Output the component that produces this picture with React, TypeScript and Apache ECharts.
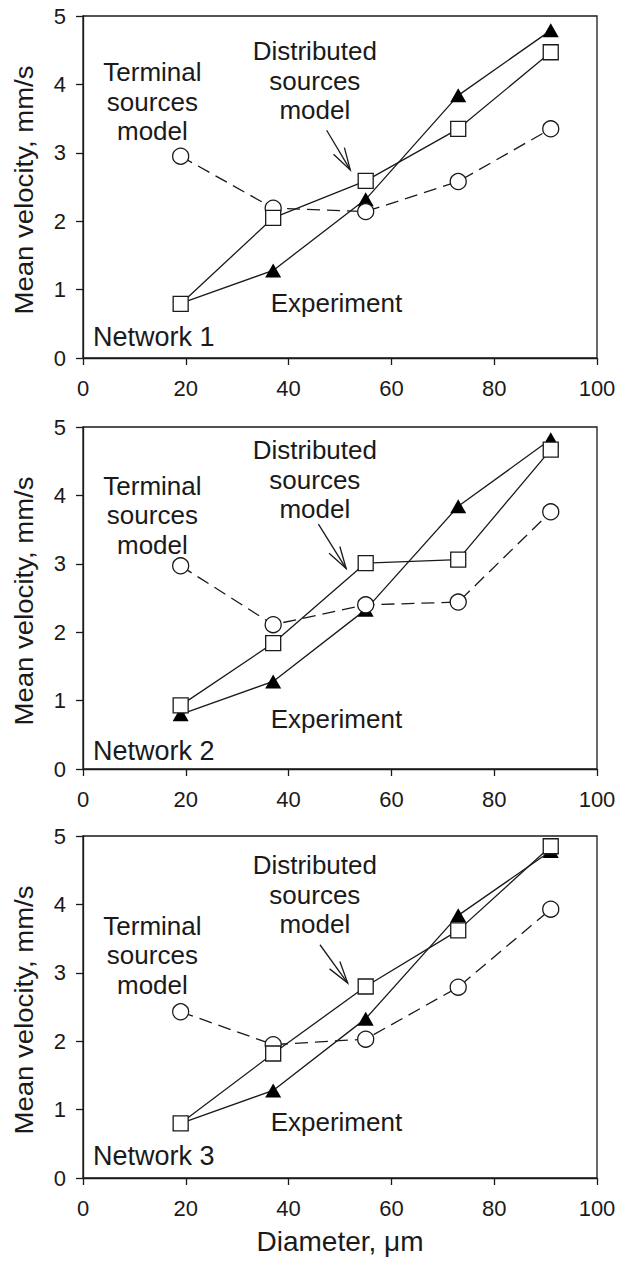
import React, { useEffect, useRef } from "react";
import * as echarts from "echarts";

// ---- data ----
const diameters = [19, 37, 55, 73, 91];
const experiment = [
  [0.8, 1.28, 2.32, 3.84, 4.79],
  [0.8, 1.28, 2.33, 3.84, 4.82],
  [0.8, 1.28, 2.33, 3.84, 4.78],
];
const distributedModel = [
  [0.79, 2.05, 2.59, 3.35, 4.47],
  [0.93, 1.84, 3.01, 3.06, 4.67],
  [0.8, 1.82, 2.8, 3.62, 4.85],
];
const terminalModel = [
  [2.95, 2.19, 2.14, 2.58, 3.35],
  [2.97, 2.11, 2.4, 2.44, 3.76],
  [2.43, 1.95, 2.03, 2.79, 3.93],
];
const networkNames = ["Network 1", "Network 2", "Network 3"];
const xMin = 0, xMax = 100, xStep = 20;
const yMin = 0, yMax = 5, yStep = 1;
const yTitle = "Mean velocity, mm/s";
const xTitle = "Diameter, \u03bcm";
const terminalText = "Terminal\nsources\nmodel";
const distributedText = "Distributed\nsources\nmodel";
const experimentText = "Experiment";

// annotation anchors in data coordinates (per panel)
const terminalAnchor = [[13.5, 3.75], [13.5, 3.71], [13.5, 3.26]];
const distributedAnchor = [[45.1, 4.05], [45.1, 4.23], [45.1, 4.14]];
const experimentAnchor = [[49.3, 0.8], [49.3, 0.73], [49.3, 0.82]];
const networkAnchor = [[1.95, 0.31], [1.95, 0.27], [1.95, 0.32]];
const arrowTail = [[47.4, 3.33], [45.8, 3.58], [46.1, 3.41]];
const arrowTip = [[52.0, 2.75], [51.2, 2.93], [51.5, 2.85]];

const FONT = "'Liberation Sans', Arial, Helvetica, sans-serif";
const INK = "#1a1a1a";
const gridTops = [16, 427, 836];
const gridH = 342;
const gridLeft = 83;
const gridW = 514;

export default function App() {
  const ref = useRef<HTMLDivElement>(null);
  useEffect(() => {
    document.body.style.margin = "0";
    const chart = echarts.init(ref.current!, undefined, { renderer: "svg" });
    const grids = gridTops.map((t) => ({
      left: gridLeft, top: t, width: gridW, height: gridH,
      show: true, borderColor: INK, borderWidth: 1.3, backgroundColor: "transparent",
    }));
    const xAxes = gridTops.map((_, i) => ({
      type: "value", gridIndex: i, min: xMin, max: xMax, interval: xStep,
      axisLine: { show: true, onZero: false, lineStyle: { color: INK, width: 1.3 } },
      axisTick: { show: true, inside: false, length: 7, lineStyle: { color: INK, width: 1.3 } },
      splitLine: { show: false },
      axisLabel: { fontSize: 22, color: INK, fontFamily: FONT, margin: 19 },
      name: i === 2 ? xTitle : "",
      nameLocation: "middle",
      nameGap: 49,
      nameTextStyle: { fontSize: 28, color: INK, fontFamily: FONT },
    }));
    const yAxes = gridTops.map((_, i) => ({
      type: "value", gridIndex: i, min: yMin, max: yMax, interval: yStep,
      axisLine: { show: true, onZero: false, lineStyle: { color: INK, width: 1.3 } },
      axisTick: { show: true, inside: false, length: 7, lineStyle: { color: INK, width: 1.3 } },
      splitLine: { show: false },
      axisLabel: { fontSize: 22, color: INK, fontFamily: FONT, margin: 17 },
    }));
    const series: any[] = [];
    gridTops.forEach((_, i) => {
      series.push({
        type: "line", name: "Experiment", xAxisIndex: i, yAxisIndex: i,
        data: diameters.map((d, k) => [d, experiment[i][k]]),
        symbol: "triangle", symbolSize: [16, 14],
        itemStyle: { color: "#000", borderColor: "#000", borderWidth: 0 },
        lineStyle: { color: INK, width: 1.3, type: "solid" },
        z: 2,
      });
      series.push({
        type: "line", name: "Terminal", xAxisIndex: i, yAxisIndex: i,
        data: diameters.map((d, k) => [d, terminalModel[i][k]]),
        symbol: "circle", symbolSize: 16, showAllSymbol: true,
        itemStyle: { color: "#fff", borderColor: INK, borderWidth: 1.3 },
        lineStyle: { color: INK, width: 1.3, type: [13, 7] },
        z: 3,
      });
      series.push({
        type: "line", name: "Distributed", xAxisIndex: i, yAxisIndex: i,
        data: diameters.map((d, k) => [d, distributedModel[i][k]]),
        symbol: "rect", symbolSize: 15,
        itemStyle: { color: "#fff", borderColor: INK, borderWidth: 1.3 },
        lineStyle: { color: INK, width: 1.3, type: "solid" },
        z: 4,
      });
    });
    chart.setOption({
      animation: false,
      backgroundColor: "#fff",
      grid: grids,
      xAxis: xAxes,
      yAxis: yAxes,
      series,
    });

    const graphics: any[] = [];
    const txt = (x: number, y: number, text: string, align: string, size: number, lh?: number) => ({
      type: "text", x, y, z: 10,
      style: {
        text, fill: INK, font: `${size}px ${FONT}`, align, verticalAlign: "middle",
        lineHeight: lh ?? size * 1.2,
      },
    });
    gridTops.forEach((t, i) => {
      const px = (p: number[]) => chart.convertToPixel({ gridIndex: i } as any, p) as number[];
      const ta = px(terminalAnchor[i]);
      const da = px(distributedAnchor[i]);
      const ea = px(experimentAnchor[i]);
      const na = px(networkAnchor[i]);
      graphics.push(txt(ta[0], ta[1], terminalText, "center", 26, 29.5));
      graphics.push(txt(da[0], da[1], distributedText, "center", 26, 29.5));
      graphics.push(txt(ea[0], ea[1], experimentText, "center", 26));
      graphics.push(txt(na[0], na[1], networkNames[i], "left", 27));
      // arrow
      const a = px(arrowTail[i]);
      const b = px(arrowTip[i]);
      const ang = Math.atan2(a[1] - b[1], a[0] - b[0]);
      const L = 23, spread = (16 * Math.PI) / 180;
      const h1 = [b[0] + L * Math.cos(ang + spread), b[1] + L * Math.sin(ang + spread)];
      const h2 = [b[0] + L * Math.cos(ang - spread), b[1] + L * Math.sin(ang - spread)];
      graphics.push({ type: "line", z: 10, shape: { x1: a[0], y1: a[1], x2: b[0], y2: b[1] }, style: { stroke: INK, lineWidth: 1.3 } });
      graphics.push({ type: "polyline", z: 10, shape: { points: [h1, b, h2] }, style: { stroke: INK, lineWidth: 1.3, fill: "none" } });
      // y axis title
      graphics.push({
        type: "text", x: 24, y: t + gridH / 2 + 3, rotation: Math.PI / 2, z: 10,
        scaleX: 1.06,
        style: { text: yTitle, fill: INK, font: `26px ${FONT}`, align: "center", verticalAlign: "middle" },
      });
    });
    chart.setOption({ graphic: graphics });
    return () => chart.dispose();
  }, []);
  return <div ref={ref} style={{ width: 620, height: 1261 }} />;
}
